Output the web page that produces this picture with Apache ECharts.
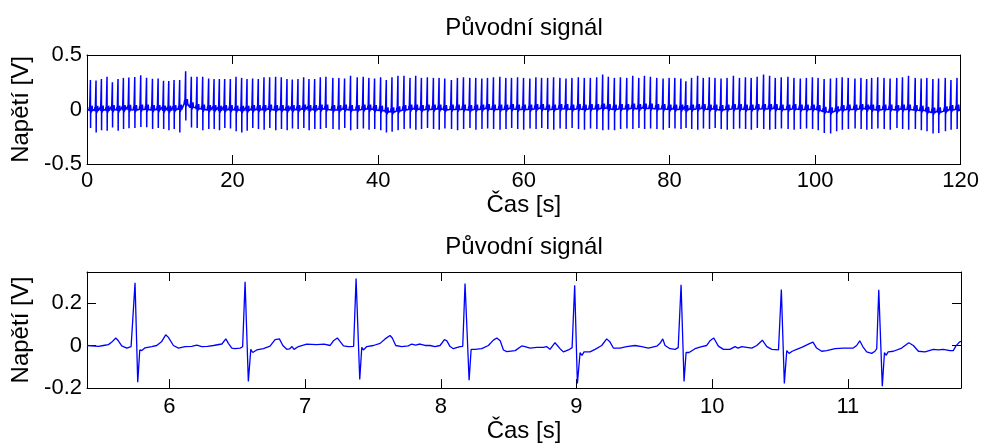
<!DOCTYPE html>
<html>
<head>
<meta charset="utf-8">
<script src="https://cdn.jsdelivr.net/npm/echarts@6/dist/echarts.min.js"></script>
<style>
html,body{margin:0;padding:0;background:#fff;}
#chart{width:982px;height:444px;}
</style>
</head>
<body>
<div id="chart"></div>
<script>
// ---------- DATA ----------
const chartTitle = 'Původní signál';
const xAxisName = 'Čas [s]';
const yAxisName = 'Napětí [V]';

// Top panel: R-peak times [s], R amplitudes, S amplitudes and baseline level per beat
const topRTimes = [
  0.47, 1.24, 1.98, 2.75, 3.49, 4.26, 5.00, 5.75, 6.56, 7.38, 8.18, 8.99, 9.77, 10.51, 11.23, 11.96, 12.73, 13.55, 14.33, 15.11,
  15.89, 16.71, 17.45, 18.18, 18.91, 19.69, 20.47, 21.24, 21.98, 22.75, 23.53, 24.31, 25.09, 25.91, 26.69, 27.47, 28.20, 28.98, 29.76, 30.49,
  31.27, 32.05, 32.82, 33.77, 34.60, 35.38, 36.20, 37.12, 37.94, 38.72, 39.50, 40.33, 41.11, 41.89, 42.71, 43.54, 44.37, 45.15, 45.93, 46.75,
  47.58, 48.36, 49.14, 50.05, 50.88, 51.71, 52.58, 53.40, 54.23, 55.01, 55.83, 56.71, 57.53, 58.31, 59.14, 59.96, 60.83, 61.66, 62.44, 63.27,
  64.09, 64.96, 65.79, 66.61, 67.49, 68.31, 69.14, 70.01, 70.83, 71.61, 72.44, 73.27, 74.14, 74.96, 75.79, 76.57, 77.39, 78.26, 79.13, 79.96,
  80.74, 81.57, 82.26, 83.04, 83.87, 84.65, 85.48, 86.26, 87.09, 87.92, 88.79, 89.62, 90.44, 91.23, 92.05, 92.93, 93.76, 94.54, 95.36, 96.28,
  97.11, 97.98, 98.81, 99.64, 100.42, 101.25, 102.12, 102.95, 103.73, 104.56, 105.48, 106.31, 107.09, 107.78, 108.61, 109.48, 110.31, 111.23, 112.01, 112.84,
  113.76, 114.58, 115.36, 116.19, 116.97, 117.89, 118.67, 119.50
];
const topRPeaks = [
  0.27, 0.265, 0.28, 0.30, 0.25, 0.28, 0.29, 0.294, 0.299, 0.314, 0.291, 0.283, 0.285, 0.263, 0.261, 0.27, 0.27, 0.35, 0.30, 0.30,
  0.30, 0.285, 0.28, 0.28, 0.28, 0.28, 0.30, 0.29, 0.28, 0.285, 0.28, 0.295, 0.295, 0.30, 0.295, 0.28, 0.275, 0.28, 0.295, 0.28,
  0.28, 0.295, 0.30, 0.29, 0.29, 0.285, 0.31, 0.295, 0.30, 0.29, 0.285, 0.295, 0.27, 0.295, 0.31, 0.31, 0.29, 0.31, 0.29, 0.295,
  0.29, 0.29, 0.285, 0.27, 0.29, 0.295, 0.29, 0.29, 0.285, 0.29, 0.295, 0.30, 0.29, 0.29, 0.295, 0.29, 0.285, 0.295, 0.29, 0.29,
  0.295, 0.29, 0.285, 0.29, 0.295, 0.29, 0.29, 0.295, 0.32, 0.30, 0.29, 0.295, 0.29, 0.31, 0.29, 0.31, 0.30, 0.29, 0.285, 0.29,
  0.29, 0.285, 0.26, 0.29, 0.31, 0.29, 0.295, 0.29, 0.285, 0.29, 0.31, 0.29, 0.295, 0.29, 0.30, 0.32, 0.31, 0.29, 0.295, 0.30,
  0.29, 0.285, 0.29, 0.295, 0.29, 0.28, 0.285, 0.29, 0.295, 0.29, 0.285, 0.29, 0.28, 0.29, 0.295, 0.29, 0.285, 0.29, 0.295, 0.31,
  0.29, 0.285, 0.29, 0.28, 0.285, 0.29, 0.27, 0.29
];
const topSTroughs = [
  -0.17, -0.21, -0.19, -0.195, -0.165, -0.195, -0.18, -0.172, -0.169, -0.16, -0.163, -0.178, -0.169, -0.178, -0.191, -0.18, -0.21, -0.10, -0.165, -0.17,
  -0.19, -0.18, -0.18, -0.19, -0.17, -0.175, -0.20, -0.21, -0.195, -0.17, -0.18, -0.185, -0.17, -0.19, -0.18, -0.19, -0.175, -0.18, -0.17, -0.19,
  -0.18, -0.18, -0.17, -0.18, -0.185, -0.17, -0.19, -0.18, -0.175, -0.185, -0.18, -0.19, -0.21, -0.205, -0.19, -0.18, -0.175, -0.185, -0.18, -0.17,
  -0.18, -0.185, -0.175, -0.18, -0.19, -0.18, -0.17, -0.185, -0.18, -0.175, -0.18, -0.185, -0.18, -0.17, -0.18, -0.185, -0.175, -0.18, -0.17, -0.18,
  -0.185, -0.175, -0.18, -0.17, -0.18, -0.185, -0.175, -0.18, -0.19, -0.185, -0.19, -0.18, -0.175, -0.18, -0.17, -0.18, -0.175, -0.18, -0.185, -0.17,
  -0.175, -0.18, -0.17, -0.18, -0.185, -0.175, -0.18, -0.17, -0.18, -0.185, -0.18, -0.175, -0.18, -0.185, -0.17, -0.18, -0.185, -0.18, -0.175, -0.18,
  -0.185, -0.18, -0.175, -0.18, -0.19, -0.215, -0.22, -0.2, -0.185, -0.18, -0.175, -0.18, -0.185, -0.18, -0.175, -0.18, -0.185, -0.17, -0.18, -0.185,
  -0.18, -0.19, -0.2, -0.22, -0.215, -0.2, -0.185, -0.18
];
const topBaseline = [
  -0.01, -0.012, -0.008, -0.01, -0.005, -0.008, -0.004, -0.002, -0.004, 0.0, 0.0, -0.005, -0.005, -0.008, -0.01, -0.005, 0.0, 0.05, 0.02, 0.005,
  0.0, -0.005, -0.005, -0.01, -0.005, -0.005, -0.008, -0.012, -0.01, -0.005, -0.005, -0.005, 0.0, -0.005, -0.005, -0.008, -0.005, -0.005, 0.0, -0.005,
  -0.005, 0.0, 0.0, -0.005, -0.005, 0.0, -0.005, -0.005, 0.0, 0.0, -0.005, -0.01, -0.025, -0.025, -0.015, -0.005, 0.0, 0.0, -0.005, 0.0,
  0.0, 0.0, -0.005, 0.0, 0.0, 0.0, -0.005, 0.0, 0.0, 0.005, 0.0, 0.0, 0.0, 0.005, 0.0, 0.0, 0.0, 0.005, 0.005, 0.0,
  0.0, 0.005, 0.005, 0.0, 0.005, 0.0, 0.005, 0.005, 0.01, 0.005, 0.0, 0.005, 0.005, 0.01, 0.005, 0.01, 0.01, 0.005, 0.005, 0.0,
  0.0, 0.0, -0.005, 0.0, 0.005, 0.005, 0.0, 0.0, -0.005, 0.0, 0.005, 0.005, 0.0, 0.0, 0.005, 0.005, 0.005, 0.005, 0.0, 0.0,
  0.005, 0.0, 0.0, 0.0, -0.005, -0.02, -0.025, -0.015, -0.005, 0.0, 0.0, 0.005, 0.0, 0.0, -0.005, 0.0, 0.0, -0.005, 0.0, 0.0,
  -0.005, -0.01, -0.02, -0.028, -0.025, -0.015, -0.005, 0.0
];
// Shape of one beat around the R peak (time offset [s], value offset [V])
const beatBefore = [[-0.22, 0.0], [-0.19, 0.01], [-0.14, 0.033], [-0.11, -0.005], [-0.07, -0.013], [-0.02, -0.006]];
const sOffset = 0.022;
const beatAfter = [[0.035, -0.025], [0.06, -0.03], [0.10, -0.018], [0.16, -0.006], [0.20, 0.018], [0.23, 0.045], [0.25, 0.035], [0.29, 0.0], [0.32, -0.014], [0.42, -0.006]];

// Bottom panel: traced waveform (time [s], voltage [V])
const bottomT = [
  5.393, 5.479, 5.514, 5.551, 5.576, 5.605, 5.624, 5.649, 5.686, 5.718, 5.732, 5.747, 5.767, 5.782, 5.787, 5.797, 5.821, 5.870, 5.907, 5.944,
  5.973, 5.993, 6.030, 6.067, 6.116, 6.165, 6.202, 6.239, 6.280, 6.325, 6.387, 6.416, 6.435, 6.460, 6.484, 6.521, 6.540, 6.558, 6.582, 6.600,
  6.614, 6.644, 6.693, 6.742, 6.779, 6.811, 6.836, 6.865, 6.885, 6.904, 6.919, 6.951, 7.012, 7.086, 7.140, 7.185, 7.209, 7.238, 7.255, 7.283,
  7.320, 7.358, 7.376, 7.403, 7.418, 7.430, 7.455, 7.504, 7.553, 7.590, 7.626, 7.643, 7.668, 7.712, 7.761, 7.786, 7.815, 7.847, 7.884, 7.920,
  7.958, 7.995, 8.027, 8.045, 8.069, 8.093, 8.142, 8.162, 8.179, 8.209, 8.224, 8.253, 8.302, 8.351, 8.388, 8.413, 8.438, 8.462, 8.487, 8.548,
  8.597, 8.621, 8.658, 8.707, 8.756, 8.780, 8.805, 8.842, 8.855, 8.879, 8.904, 8.941, 8.968, 8.987, 9.007, 9.027, 9.041, 9.056, 9.100, 9.137,
  9.186, 9.223, 9.248, 9.272, 9.321, 9.370, 9.432, 9.481, 9.530, 9.592, 9.616, 9.636, 9.653, 9.690, 9.727, 9.750, 9.771, 9.793, 9.808, 9.830,
  9.874, 9.923, 9.960, 9.984, 10.012, 10.046, 10.083, 10.130, 10.169, 10.190, 10.218, 10.292, 10.329, 10.370, 10.403, 10.440, 10.489, 10.510, 10.532, 10.550,
  10.567, 10.590, 10.623, 10.660, 10.721, 10.743, 10.770, 10.807, 10.844, 10.906, 10.967, 11.040, 11.065, 11.088, 11.110, 11.139, 11.176, 11.200, 11.213, 11.228,
  11.254, 11.270, 11.282, 11.297, 11.336, 11.397, 11.449, 11.483, 11.520, 11.569, 11.630, 11.667, 11.704, 11.753, 11.777, 11.797, 11.822, 11.834
];
const bottomV = [
  0.000, -0.004, 0.000, 0.004, 0.016, 0.035, 0.022, -0.002, -0.012, -0.005, 0.000, 0.294, -0.172, -0.021, -0.012, -0.024, -0.011, -0.005, 0.000, 0.019,
  0.050, 0.038, 0.000, -0.012, -0.005, -0.004, 0.002, -0.005, -0.004, 0.000, 0.007, 0.031, 0.010, -0.012, -0.015, -0.012, -0.006, 0.299, -0.169, -0.018,
  -0.033, -0.021, -0.015, -0.003, 0.028, 0.031, 0.000, -0.018, -0.016, -0.005, -0.018, -0.005, 0.006, 0.004, 0.006, 0.000, 0.022, 0.035, 0.022, -0.002,
  -0.005, -0.004, 0.314, -0.160, -0.009, -0.021, -0.005, 0.000, 0.010, 0.031, 0.047, 0.035, 0.000, -0.005, -0.002, 0.007, 0.002, 0.007, 0.000, 0.000,
  -0.005, 0.000, 0.028, 0.022, -0.005, -0.015, -0.005, -0.004, 0.291, -0.163, -0.018, -0.018, -0.015, 0.000, 0.025, 0.035, 0.022, -0.021, -0.029, -0.024,
  -0.002, -0.005, -0.012, -0.009, -0.009, -0.005, -0.018, 0.013, 0.016, -0.015, -0.030, -0.021, -0.010, 0.283, -0.178, -0.033, -0.046, -0.030, -0.030, -0.018,
  0.000, 0.031, 0.016, -0.012, -0.012, -0.005, 0.000, -0.005, -0.012, -0.003, 0.010, 0.031, 0.000, -0.015, -0.018, -0.010, 0.285, -0.169, -0.033, -0.033,
  -0.015, -0.005, 0.000, 0.022, 0.035, -0.003, -0.018, -0.018, -0.005, -0.012, -0.005, -0.012, 0.000, 0.025, -0.005, -0.018, -0.021, 0.263, -0.178, -0.024,
  -0.037, -0.027, -0.018, -0.009, 0.010, 0.016, -0.012, -0.027, -0.024, -0.015, -0.012, -0.012, 0.000, 0.022, -0.005, -0.030, -0.037, -0.027, -0.015, 0.261,
  -0.191, -0.033, -0.046, -0.030, -0.027, -0.012, 0.013, 0.000, -0.027, -0.030, -0.018, -0.021, -0.018, -0.024, -0.024, -0.002, 0.016, 0.020
];

// Axis ranges and tick values
const topXRange = [0, 120];
const topXTickValues = [0, 20, 40, 60, 80, 100, 120];
const topYRange = [-0.5, 0.5];
const topYTickValues = [-0.5, 0, 0.5];
const botXRange = [5.393, 11.834];
const botXTickValues = [6, 7, 8, 9, 10, 11];
const botYRange = [-0.2, 0.345];
const botYTickValues = [-0.2, 0, 0.2];

// ---------- build series ----------
const topData = [[0, topBaseline[0]]];
for (let i = 0; i < topRTimes.length; i++) {
  const t = topRTimes[i], b = topBaseline[i];
  beatBefore.forEach(p => topData.push([t + p[0], b + p[1]]));
  topData.push([t, topRPeaks[i]]);
  topData.push([t + sOffset, topSTroughs[i]]);
  beatAfter.forEach(p => topData.push([t + p[0], b + p[1]]));
}
topData.push([120, topBaseline[topBaseline.length - 1]]);
const bottomData = bottomT.map((t, i) => [t, bottomV[i]]);

// ---------- chart ----------
const FONT = 'Liberation Sans, Arial, Helvetica, sans-serif';
const black = '#000';
const tickColor = '#000';
const fmtNum = v => (Math.abs(v) < 1e-9 ? '0' : String(+(+v).toFixed(2)));

function axisCommon(range, ticks, showLabel, labelMargin, name, nameGap) {
  return {
    type: 'value', min: range[0], max: range[1],
    axisLine: {show: true, onZero: false, lineStyle: {color: black, width: 1}},
    axisTick: {show: true, inside: true, length: 9, customValues: ticks, lineStyle: {color: tickColor, width: 1}},
    axisLabel: {show: showLabel, customValues: ticks, fontSize: 22, color: black, fontFamily: FONT,
                margin: labelMargin, formatter: fmtNum, showMinLabel: true, showMaxLabel: true},
    splitLine: {show: false},
    name: name, nameLocation: 'middle', nameGap: nameGap,
    nameTextStyle: {fontSize: 24, color: black, fontFamily: FONT}
  };
}
function xAx(grid, range, ticks, pos, showLabel, name, margin, gap) {
  return Object.assign(axisCommon(range, ticks, showLabel, margin, name, gap), {gridIndex: grid, position: pos});
}
function yAx(grid, range, ticks, pos, showLabel, name) {
  return Object.assign(axisCommon(range, ticks, showLabel, 5, name, 51), {gridIndex: grid, position: pos});
}

const chart = echarts.init(document.getElementById('chart'), null, {renderer: 'canvas'});
chart.setOption({
  animation: false,
  backgroundColor: '#fff',
  title: [
    {text: chartTitle, left: 524, top: 16, textAlign: 'center', padding: 0,
     textStyle: {fontSize: 24, fontWeight: 'normal', color: black, fontFamily: FONT}},
    {text: chartTitle, left: 524, top: 235, textAlign: 'center', padding: 0,
     textStyle: {fontSize: 24, fontWeight: 'normal', color: black, fontFamily: FONT}}
  ],
  grid: [
    {left: 87, top: 55, width: 874, height: 109, containLabel: false},
    {left: 87, top: 272, width: 874, height: 119, containLabel: false}
  ],
  xAxis: [
    xAx(0, topXRange, topXTickValues, 'bottom', true, xAxisName, 6, 20),
    xAx(0, topXRange, topXTickValues, 'top', false, '', 6, 20),
    xAx(1, botXRange, botXTickValues, 'bottom', true, xAxisName, 8, 20),
    xAx(1, botXRange, botXTickValues, 'top', false, '', 6, 20)
  ],
  yAxis: [
    yAx(0, topYRange, topYTickValues, 'left', true, yAxisName),
    yAx(0, topYRange, topYTickValues, 'right', false, ''),
    yAx(1, botYRange, botYTickValues, 'left', true, yAxisName),
    yAx(1, botYRange, botYTickValues, 'right', false, '')
  ],
  series: [
    {type: 'line', xAxisIndex: 0, yAxisIndex: 0, data: topData, showSymbol: false, symbol: 'none',
     lineStyle: {color: '#0000ff', width: 1.5}, clip: true, silent: true},
    {type: 'line', xAxisIndex: 2, yAxisIndex: 2, data: bottomData, showSymbol: false, symbol: 'none',
     lineStyle: {color: '#0000ff', width: 1.3}, clip: true, silent: true}
  ]
});
</script>
</body>
</html>
